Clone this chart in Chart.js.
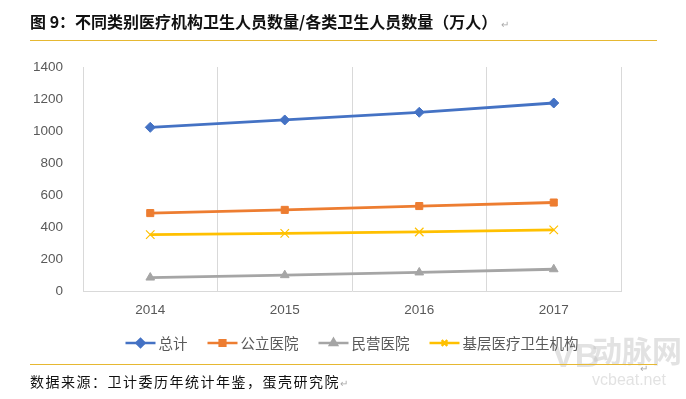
<!DOCTYPE html>
<html>
<head>
<meta charset="utf-8">
<script src="https://cdn.jsdelivr.net/npm/chart.js@4.4.1/dist/chart.umd.min.js"></script>
<style>
  html, body { margin: 0; padding: 0; background: #fff; }
  #wrap { position: relative; width: 686px; height: 399px; }
</style>
</head>
<body>
<div id="wrap"><canvas id="myChart" width="686" height="399"></canvas></div>
<script>
// data
const years = ["2014", "2015", "2016", "2017"];
const totalStaff = [1023, 1069, 1117, 1175];
const publicHosp = [487, 507, 531, 553];
const privateHosp = [84, 99, 116, 136];
const primaryCare = [352, 360, 369, 382];
const seriesNames = ["总计", "公立医院", "民营医院", "基层医疗卫生机构"];
const yTicks = [0, 200, 400, 600, 800, 1000, 1200, 1400];

const colors = ["#4472C4", "#ED7D31", "#A5A5A5", "#FFC000"];
const markers = ["rectRot", "rect", "triangle", "crossRot"];
const tickFont = { family: "'Liberation Sans', Arial, sans-serif", size: 13.5 };
const cjk = "'Noto Sans CJK SC', sans-serif";

// title, rules, footer, legend and watermark
const decor = {
  id: "decor",
  afterDraw(chart) {
    const ctx = chart.ctx;
    ctx.save();
    ctx.textBaseline = "middle";
    ctx.textAlign = "left";

    // watermark first so the text sits on top
    ctx.fillStyle = "rgba(190,190,190,0.45)";
    ctx.font = "bold 30px " + cjk;
    ctx.fillText("动脉网", 592, 351);
    ctx.font = "16px 'Liberation Sans', sans-serif";
    ctx.fillText("vcbeat.net", 592, 381);
    ctx.font = "bold 34px 'Liberation Sans', sans-serif";
    ctx.fillText("VB", 552, 358);

    // title
    ctx.fillStyle = "#111";
    ctx.font = "bold 16px " + cjk;
    const title = "图 9：不同类别医疗机构卫生人员数量/各类卫生人员数量（万人）";
    ctx.fillText(title, 30, 22);
    const tw = ctx.measureText(title).width;
    ctx.fillStyle = "#aaa";
    ctx.font = "10px " + cjk;
    ctx.fillText("↵", 30 + tw + 4, 24);

    // gold rules
    ctx.strokeStyle = "#E6B832";
    ctx.lineWidth = 1.2;
    ctx.beginPath();
    ctx.moveTo(30, 40.5); ctx.lineTo(657, 40.5);
    ctx.moveTo(30, 364.5); ctx.lineTo(657, 364.5);
    ctx.stroke();

    // source
    ctx.fillStyle = "#111";
    ctx.font = "14px " + cjk;
    ctx.letterSpacing = "1.5px";
    const src = "数据来源：卫计委历年统计年鉴，蛋壳研究院";
    ctx.fillText(src, 30, 382);
    const sw = ctx.measureText(src).width;
    ctx.letterSpacing = "0px";
    ctx.fillStyle = "#aaa";
    ctx.font = "10px " + cjk;
    ctx.fillText("↵", 30 + sw, 383);
    ctx.fillText("↵", 640, 368);

    // legend (line + marker like the office chart)
    ctx.font = "14.5px " + cjk;
    const sets = chart.data.datasets;
    const lineLen = 30, gapText = 3, gapItem = 20;
    let widths = sets.map(d => lineLen + gapText + ctx.measureText(d.label).width);
    let total = widths.reduce((a, b) => a + b, 0) + gapItem * (sets.length - 1);
    const area = chart.chartArea;
    let x = (area.left + area.right) / 2 - total / 2;
    const y = 343;
    sets.forEach((d, i) => {
      ctx.strokeStyle = d.borderColor;
      ctx.lineWidth = 2.5;
      ctx.beginPath();
      ctx.moveTo(x, y); ctx.lineTo(x + lineLen, y);
      ctx.stroke();
      ctx.fillStyle = d.pointBackgroundColor;
      ctx.strokeStyle = d.pointBorderColor;
      Chart.helpers.drawPoint(ctx, {
        pointStyle: d.pointStyle, radius: 4, borderWidth: 1
      }, x + lineLen / 2, y);
      ctx.fillStyle = "#595959";
      ctx.fillText(d.label, x + lineLen + gapText, y);
      x += widths[i] + gapItem;
    });
    ctx.restore();
  }
};

const seriesData = [totalStaff, publicHosp, privateHosp, primaryCare];

new Chart(document.getElementById("myChart").getContext("2d"), {
  type: "line",
  data: {
    labels: years,
    datasets: seriesData.map((vals, i) => ({
      label: seriesNames[i],
      data: vals,
      borderColor: colors[i],
      backgroundColor: colors[i],
      pointBackgroundColor: colors[i],
      pointBorderColor: colors[i],
      pointStyle: markers[i],
      pointRadius: i === 3 ? 6 : 5,
      pointBorderWidth: i === 3 ? 1.2 : 1,
      borderWidth: 2.8,
      tension: 0
    }))
  },
  options: {
    responsive: false,
    animation: false,
    layout: { padding: { left: 0, top: 67, right: 65, bottom: 78 } },
    plugins: { legend: { display: false }, tooltip: { enabled: false } },
    scales: {
      x: {
        offset: true,
        grid: { offset: true, color: "#D9D9D9", lineWidth: 1, drawTicks: false },
        border: { color: "#D9D9D9" },
        ticks: { color: "#595959", font: tickFont, padding: 11 },
        afterFit(s) { s.height = 30; }
      },
      y: {
        min: 0,
        max: 1400,
        grid: { display: false },
        border: { display: false },
        afterBuildTicks(s) { s.ticks = yTicks.map(v => ({ value: v })); },
        ticks: { color: "#595959", font: tickFont, padding: 12, callback: v => String(v) },
        afterFit(s) { s.width = 83; }
      }
    }
  },
  plugins: [decor]
});
</script>
</body>
</html>
